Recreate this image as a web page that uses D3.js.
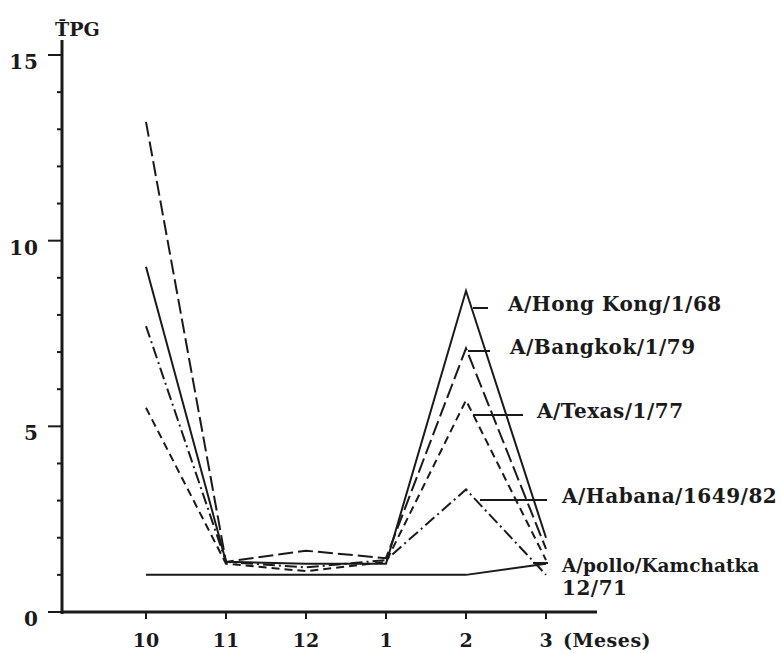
<!DOCTYPE html>
<html lang="es">
<head>
  <meta charset="UTF-8">
  <title>TPG por meses</title>
  <style>
    body { margin: 0; background: #fff; }
    text { font-family: "DejaVu Serif", serif; font-weight: bold; fill: #1a1a1a; }
  </style>
</head>
<body>
  <svg width="781" height="653"></svg>
  <script src="https://cdn.jsdelivr.net/npm/d3@7/dist/d3.min.js"></script>
  <script>
    // datos
    var months = ["10", "11", "12", "1", "2", "3"];
    var yTicks = [0, 1, 2, 3, 4, 5, 6, 7, 8, 9, 10, 11, 12, 13, 14, 15];
    var yLabels = [0, 5, 10, 15];
    var seriesNames = ["A/Hong Kong/1/68", "A/Bangkok/1/79", "A/Texas/1/77", "A/Habana/1649/82", "A/pollo/Kamchatka"];
    var hongKong = [9.3, 1.35, 1.3, 1.3, 8.65, 2.0];
    var bangkok = [13.2, 1.35, 1.65, 1.45, 7.1, 1.7];
    var texas = [5.5, 1.3, 1.1, 1.35, 5.7, 1.4];
    var habana = [7.7, 1.35, 1.2, 1.4, 3.3, 1.0];
    var kamchatka = [1.0, 1.0, 1.0, 1.0, 1.0, 1.3];

    var svg = d3.select("svg");
    var ink = "#1a1a1a";

    var x = d3.scalePoint().domain(months).range([146, 546]);
    var y = d3.scaleLinear().domain([0, 15]).range([612, 55]);

    // ejes
    var yAxis = svg.append("g").attr("transform", "translate(62,0)");
    yAxis.append("line").attr("x1", 0).attr("x2", 0).attr("y1", 40).attr("y2", 614)
      .attr("stroke", ink).attr("stroke-width", 3);
    yAxis.selectAll(".tk").data(yTicks).enter().append("line")
      .attr("x1", function (d) { return d % 5 == 0 ? -14 : -5; })
      .attr("x2", 0)
      .attr("y1", function (d) { return y(d); })
      .attr("y2", function (d) { return y(d); })
      .attr("stroke", ink).attr("stroke-width", 2);
    yAxis.selectAll(".lb").data(yLabels).enter().append("text")
      .attr("x", -23)
      .attr("y", function (d) { return y(d) + 14; })
      .attr("text-anchor", "end")
      .style("font-size", "20px")
      .style("letter-spacing", "1px")
      .text(function (d) { return d; });

    var xAxis = svg.append("g").attr("transform", "translate(0,612)");
    xAxis.append("line").attr("x1", 61).attr("x2", 597).attr("y1", 0).attr("y2", 0)
      .attr("stroke", ink).attr("stroke-width", 3);
    xAxis.selectAll(".tk").data(months).enter().append("line")
      .attr("x1", function (d) { return x(d); })
      .attr("x2", function (d) { return x(d); })
      .attr("y1", 0).attr("y2", 7)
      .attr("stroke", ink).attr("stroke-width", 2);
    xAxis.selectAll(".lb").data(months).enter().append("text")
      .attr("x", function (d) { return x(d); })
      .attr("y", 35)
      .attr("text-anchor", "middle")
      .style("font-size", "19px")
      .text(function (d) { return d; });
    xAxis.append("text").attr("x", 563).attr("y", 35)
      .style("font-size", "19px").style("letter-spacing", "0.5px").text("(Meses)");

    svg.append("text").attr("x", 55).attr("y", 36)
      .style("font-size", "19px").text("T\u0304PG");

    // series
    var series = [
      { name: seriesNames[0], values: hongKong, dash: null },
      { name: seriesNames[1], values: bangkok, dash: "15,5" },
      { name: seriesNames[2], values: texas, dash: "8,5" },
      { name: seriesNames[3], values: habana, dash: "12,4,2,4" },
      { name: seriesNames[4], values: kamchatka, dash: null }
    ];

    var line = d3.line()
      .x(function (d, i) { return x(months[i]); })
      .y(function (d) { return y(d); });

    svg.append("g").selectAll("path").data(series).enter().append("path")
      .attr("d", function (d) { return line(d.values); })
      .attr("fill", "none")
      .attr("stroke", ink)
      .attr("stroke-width", 2)
      .attr("stroke-dasharray", function (d) { return d.dash; });

    // etiquetas con linea guia (x0, x1, y de la guia, x del texto)
    var labelLayout = [
      [473, 488, 308, 508],
      [468, 490, 351, 510],
      [473, 523, 415, 537],
      [480, 547, 500, 562],
      [533, 548, 563, 562]
    ];
    var lab = svg.append("g").selectAll("g").data(series).enter().append("g");
    lab.append("line")
      .attr("x1", function (d, i) { return labelLayout[i][0]; })
      .attr("x2", function (d, i) { return labelLayout[i][1]; })
      .attr("y1", function (d, i) { return labelLayout[i][2]; })
      .attr("y2", function (d, i) { return labelLayout[i][2]; })
      .attr("stroke", ink).attr("stroke-width", 2);
    lab.append("text")
      .attr("x", function (d, i) { return labelLayout[i][3]; })
      .attr("y", function (d, i) { return labelLayout[i][2] + (i == 4 ? 9 : 3); })
      .style("font-size", function (d, i) { return i == 4 ? "18.5px" : "20px"; })
      .style("letter-spacing", function (d, i) { return i == 4 ? "0px" : "0.5px"; })
      .text(function (d) { return d.name; });
    svg.append("text").attr("x", 562).attr("y", 595)
      .style("font-size", "20px").style("letter-spacing", "0.5px").text("12/71");
  </script>
</body>
</html>
